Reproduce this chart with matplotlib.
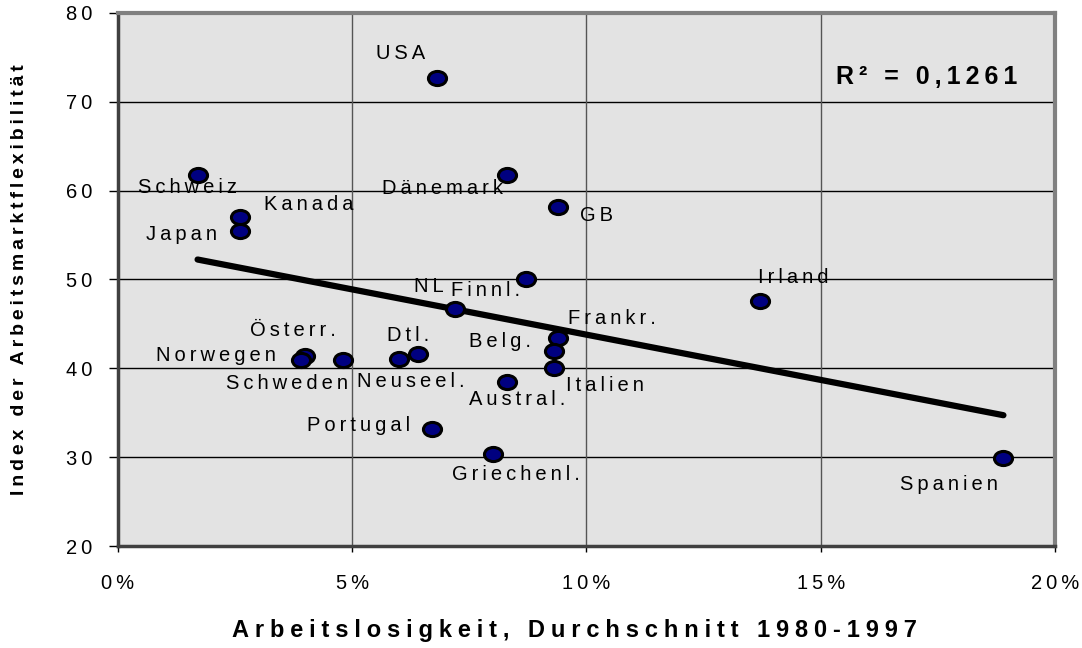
import numpy as np
import matplotlib.pyplot as plt
from matplotlib.path import Path
from matplotlib.transforms import Affine2D

plt.rcParams['font.family'] = ['Liberation Sans', 'DejaVu Sans']

# data: unemployment (%) vs. labour-market flexibility index
countries = ['USA', 'Schweiz', 'Kanada', 'Japan', 'Dänemark', 'GB', 'Finnl.', 'NL',
             'Irland', 'Frankr.', 'Belg.', 'Italien', 'Austral.', 'Österr.', 'Norwegen',
             'Schweden', 'Dtl.', 'Neuseel.', 'Portugal', 'Griechenl.', 'Spanien']
unemployment = [6.8, 1.7, 2.6, 2.6, 8.3, 9.4, 8.7, 7.2,
                13.7, 9.4, 9.3, 9.3, 8.3, 4.0, 3.9,
                4.8, 6.4, 6.0, 6.7, 8.0, 18.9]
flexibility = [72.7, 61.8, 57.0, 55.5, 61.8, 58.2, 50.1, 46.7,
               47.6, 43.4, 41.9, 40.0, 38.5, 41.4, 40.9,
               40.9, 41.6, 41.1, 33.2, 30.4, 29.9]
r2_label = 'R² = 0,1261'
y_ticks = [20, 30, 40, 50, 60, 70, 80]
x_ticks = [0, 5, 10, 15, 20]

# label offsets in pixels (text centre relative to the point)
label_offsets = {
    'USA': (-36, 24), 'Schweiz': (-10, -13), 'Kanada': (69, 13), 'Japan': (-58, -4),
    'Dänemark': (-64, -14), 'GB': (38, -9), 'Finnl.': (-40, -12), 'NL': (-26, 22),
    'Irland': (33, 23), 'Frankr.': (54, 20), 'Belg.': (-54, 10), 'Italien': (51, -17),
    'Austral.': (10, -18), 'Österr.': (-12, 25), 'Norwegen': (-85, 5),
    'Schweden': (-56, -23), 'Dtl.': (-10, 19), 'Neuseel.': (12, -23),
    'Portugal': (-73, 3), 'Griechenl.': (23, -21), 'Spanien': (-54, -26),
}


def spaced(s, sep='\u2009'):
    # emulate the wide character spacing of the original
    return sep.join(s)


fig = plt.figure(figsize=(10.82, 6.48), dpi=100)
ax = fig.add_axes([0.109, 0.1574, 0.866, 0.8226])
ax.set_facecolor('#e3e3e3')

ax.set_xlim(0, 20)
ax.set_ylim(20, 80)
ax.set_yticks(y_ticks)
ax.set_xticks(x_ticks)
ax.set_yticklabels([spaced(str(t)) for t in y_ticks], fontsize=14.5)
ax.set_xticklabels([spaced(f'{t}%') for t in x_ticks], fontsize=14.5)
ax.tick_params(axis='y', direction='out', length=6.5, width=1, color='black', pad=12)
ax.tick_params(axis='x', direction='out', length=4.5, width=1, color='black', pad=16)

for y in y_ticks[1:-1]:
    ax.axhline(y, color='black', lw=1, zorder=1)
for x in x_ticks[1:-1]:
    ax.axvline(x, color='#555555', lw=1, zorder=1)

for side in ['top', 'right']:
    ax.spines[side].set_color('#808080')
    ax.spines[side].set_linewidth(3)
for side in ['left', 'bottom']:
    ax.spines[side].set_color('#404040')
    ax.spines[side].set_linewidth(2.5)

# linear trend line
xs = np.array(unemployment)
ys = np.array(flexibility)
slope, intercept = np.polyfit(xs, ys, 1)
xl = np.array([xs.min(), xs.max()])
ax.plot(xl, slope * xl + intercept, color='black', lw=4.5, solid_capstyle='round', zorder=2)

# points are slightly wider than tall in the original
ellipse = Path.unit_circle().transformed(Affine2D().scale(1.0, 0.78))
ax.scatter(xs, ys, s=170, color='#000080', edgecolor='black', linewidth=2.2,
           marker=ellipse, zorder=3)

for name, x, y in zip(countries, unemployment, flexibility):
    dx, dy = label_offsets[name]
    ax.annotate(spaced(name), (x, y), xytext=(dx, dy), textcoords='offset pixels',
                ha='center', va='center', fontsize=14.5, color='black', zorder=4)

ax.text(0.96, 0.88, spaced(r2_label), transform=ax.transAxes, ha='right', va='center',
        fontsize=18, fontweight='bold')

ax.set_ylabel(spaced('Index der Arbeitsmarktflexibilität'), fontsize=14,
              fontweight='bold', va='center')
ax.yaxis.set_label_coords(-0.105, 0.5)
ax.set_xlabel(spaced('Arbeitslosigkeit, Durchschnitt 1980-1997', '\u2005'), fontsize=17,
              fontweight='bold', va='center')
ax.xaxis.set_label_coords(0.487, -0.158)

fig.savefig('out.png', dpi=100)
